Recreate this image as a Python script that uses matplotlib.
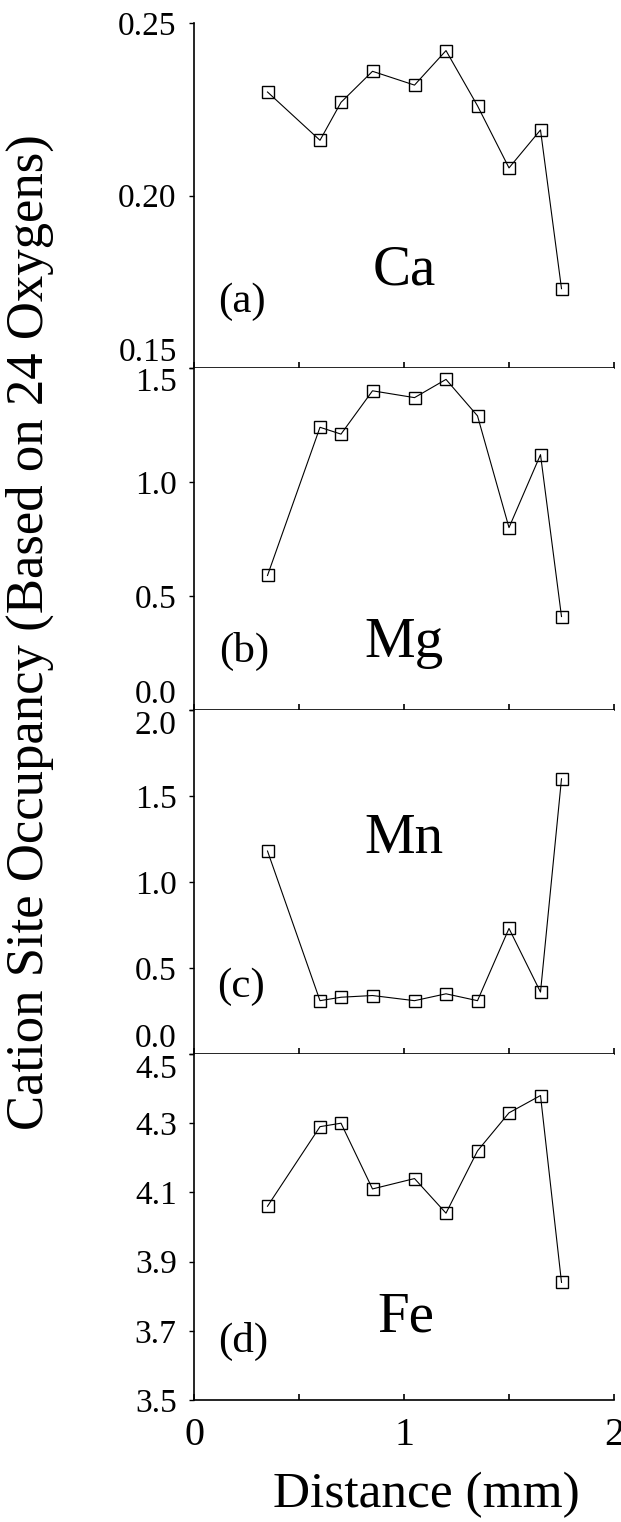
import matplotlib
matplotlib.use("Agg")
import matplotlib.pyplot as plt

## Données
distance = [0.35, 0.60, 0.70, 0.85, 1.05, 1.20, 1.35, 1.50, 1.65, 1.75]
ca = [0.230, 0.216, 0.227, 0.236, 0.232, 0.242, 0.226, 0.208, 0.219, 0.173]
mg = [0.59, 1.24, 1.21, 1.40, 1.37, 1.45, 1.29, 0.80, 1.12, 0.41]
mn = [1.18, 0.31, 0.33, 0.34, 0.31, 0.35, 0.31, 0.73, 0.36, 1.60]
fe = [4.06, 4.29, 4.30, 4.11, 4.14, 4.04, 4.22, 4.33, 4.38, 3.84]

elements = ["Ca", "Mg", "Mn", "Fe"]
lettres = ["(a)", "(b)", "(c)", "(d)"]
ylims = [(0.15, 0.25), (0.0, 1.5), (0.0, 2.0), (3.5, 4.5)]
yticks = [[0.15, 0.20, 0.25], [0.0, 0.5, 1.0, 1.5],
          [0.0, 0.5, 1.0, 1.5, 2.0], [3.5, 3.7, 3.9, 4.1, 4.3, 4.5]]
yfmt = ["%.2f", "%.1f", "%.1f", "%.1f"]
series = [ca, mg, mn, fe]

# position des étiquettes dans chaque panneau (fraction des axes)
pos_elem = [(0.50, 0.241), (0.50, 0.156), (0.50, 0.585), (0.505, 0.198)]
pos_lettre = [(0.113, 0.163), (0.12, 0.141), (0.113, 0.167), (0.118, 0.14)]

plt.rcParams["font.family"] = "serif"
plt.rcParams["font.serif"] = ["Liberation Serif", "DejaVu Serif"]

W, H = 621, 1522
fig = plt.figure(figsize=(W / 100, H / 100), dpi=100)

left, right = 194, 614
bords = [23, 368, 710, 1054, 1400]  # limites verticales des panneaux (pixels)

for i in range(4):
    top, bot = bords[i], bords[i + 1]
    ax = fig.add_axes([left / W, 1 - bot / H, (right - left) / W, (bot - top) / H])
    ax.plot(distance, series[i], color="black", lw=0.8, marker="s",
            markersize=9, markerfacecolor="none", markeredgewidth=1.0,
            markeredgecolor="black")
    ax.set_xlim(0, 2)
    ax.set_ylim(*ylims[i])
    ax.spines["top"].set_visible(False)
    ax.spines["right"].set_visible(False)
    for s in ("left", "bottom"):
        ax.spines[s].set_linewidth(1.2)
    ax.set_xticks([0, 1, 2])
    ax.set_xticks([0.5, 1.5], minor=True)
    ax.tick_params(axis="x", which="both", direction="in", length=4.5, width=1.2)
    if i < 3:
        ax.tick_params(axis="x", labelbottom=False)
    else:
        ax.set_xticklabels(["0", "1", "2"])
        ax.tick_params(axis="x", labelsize=29, pad=12)
    ax.set_yticks(yticks[i])
    ax.set_yticklabels([yfmt[i] % v for v in yticks[i]])
    ax.tick_params(axis="y", direction="out", length=3.5, width=1.0,
                   labelsize=24, pad=9)
    labels = ax.get_yticklabels()
    if i < 3:
        labels[0].set_va("bottom")
    if i > 0:
        labels[-1].set_va("top")

    ax.text(pos_elem[i][0], pos_elem[i][1], elements[i], transform=ax.transAxes,
            ha="center", va="baseline", fontsize=41)
    ax.text(pos_lettre[i][0], pos_lettre[i][1], lettres[i], transform=ax.transAxes,
            ha="center", va="baseline", fontsize=31)

fig.text(0.048, 1 - 632 / H, "Cation Site Occupancy (Based on 24 Oxygens)",
         rotation=90, ha="center", va="center", fontsize=38)
fig.text(426 / W, 1 - 1507 / H, "Distance (mm)", ha="center", va="baseline",
         fontsize=37)

fig.savefig("out.png", dpi=100)
